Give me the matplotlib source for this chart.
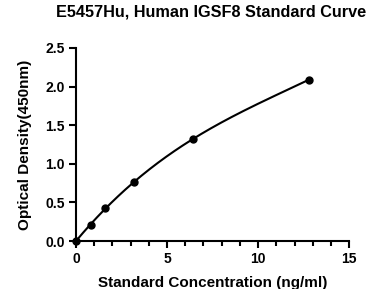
import matplotlib
matplotlib.use("Agg")
import matplotlib.pyplot as plt
import numpy as np
from matplotlib.ticker import MultipleLocator

plt.rcParams['font.family'] = ['Liberation Sans', 'DejaVu Sans']
plt.rcParams['font.weight'] = 'bold'

concentration = [0.0, 0.8, 1.6, 3.2, 6.4, 12.8]
density = [0.0, 0.21, 0.43, 0.76, 1.32, 2.09]

# smooth standard curve through the points
coef = np.polyfit(concentration, density, 3)
xs = np.linspace(0, max(concentration), 200)
ys = np.polyval(coef, xs)

fig = plt.figure(figsize=(3.82, 2.89), dpi=100)
ax = fig.add_axes([0.199, 0.166, 0.715, 0.668])

ax.plot(xs, ys, color="black", linewidth=1.5, clip_on=False)
ax.plot(concentration, density, "o", color="black", markersize=5, clip_on=False, zorder=3)

ax.set_xlim(0, 15)
ax.set_ylim(0, 2.5)
ax.xaxis.set_minor_locator(MultipleLocator(1))
ax.set_xticks([0, 5, 10, 15])
ax.set_xticklabels(["0", "5", "10", "15"])
ax.set_yticks([0, 0.5, 1.0, 1.5, 2.0, 2.5])
ax.set_yticklabels(["0.0", "0.5", "1.0", "1.5", "2.0", "2.5"])

for side in ["top", "right"]:
    ax.spines[side].set_visible(False)
for side in ["left", "bottom"]:
    ax.spines[side].set_linewidth(1.5)

ax.tick_params(which="major", length=5, width=1.5, labelsize=10, pad=3)
ax.tick_params(which="minor", length=3.5, width=1.5)

ax.set_xlabel("Standard Concentration (ng/ml)", fontsize=11, fontweight="bold", labelpad=7)
ax.set_ylabel("Optical Density(450nm)", fontsize=11, fontweight="bold", labelpad=10)
fig.suptitle("E5457Hu, Human IGSF8 Standard Curve", x=0.553, y=0.985, fontsize=11.7, fontweight="bold")

fig.savefig("out.png", dpi=100)
